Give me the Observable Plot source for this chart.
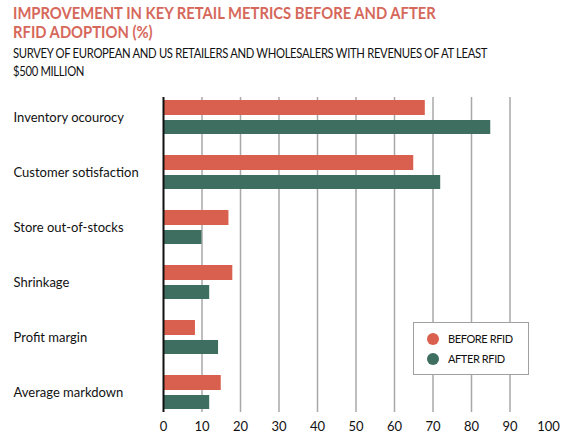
<!DOCTYPE html>
<html><head><meta charset="utf-8">
<script src="https://cdn.jsdelivr.net/npm/d3@7"></script>
<script src="https://cdn.jsdelivr.net/npm/@observablehq/plot@0.6"></script>
<style>
body{margin:0;background:#fff;font-family:Lato,sans-serif;}
#wrap{position:relative;width:565px;height:437px;overflow:hidden;}
#title{position:absolute;left:13px;top:3px;color:#d6685b;font-weight:700;font-size:17.5px;line-height:19px;white-space:nowrap;transform:scaleX(0.845);transform-origin:0 0;}
#sub{position:absolute;left:13px;top:45px;font-size:12.5px;line-height:18px;color:#111;letter-spacing:-0.35px;white-space:nowrap;transform:scaleX(0.9);transform-origin:0 0;}
#chart{position:absolute;left:0;top:85px;}
#legend{position:absolute;left:413px;top:322px;width:116px;height:53px;box-sizing:border-box;border:1.5px solid #a0a0a0;background:#fff;font-size:11px;letter-spacing:-0.4px;color:#111;}
.item{position:absolute;left:13px;display:flex;align-items:center;white-space:nowrap;}
.dot{width:12px;height:12px;border-radius:50%;margin-right:9px;}
</style></head>
<body>
<div id="wrap">
  <div id="title"></div>
  <div id="sub"></div>
  <div id="chart"></div>
  <div id="legend"></div>
</div>
<script>
const titleLines = ["IMPROVEMENT IN KEY RETAIL METRICS BEFORE AND AFTER", "RFID ADOPTION (%)"];
const subtitleLines = ["SURVEY OF EUROPEAN AND US RETAILERS AND WHOLESALERS WITH REVENUES OF AT LEAST", "$500 MILLION"];
const categories = ["Inventory ocourocy", "Customer sotisfaction", "Store out-of-stocks", "Shrinkage", "Profit margin", "Average markdown"];
const beforeValues = [68, 65, 17, 18, 8.3, 15];
const afterValues = [85, 72, 10, 12, 14.3, 12];
const seriesNames = ["BEFORE RFID", "AFTER RFID"];
const seriesColors = ["#d9604f", "#3e6e60"];
const xTicks = [0, 10, 20, 30, 40, 50, 60, 70, 80, 90, 100];
const gridTicks = [10, 20, 30, 40, 50, 60, 70, 80, 90];

document.getElementById("title").innerHTML = titleLines.join("<br>");
document.getElementById("sub").innerHTML = subtitleLines.join("<br>");

const data = categories.map((c, i) => ({cat: c, before: beforeValues[i], after: afterValues[i]}));

const chart = Plot.plot({
  width: 565,
  height: 352,
  marginLeft: 163,
  marginRight: 17,
  marginTop: 12,
  marginBottom: 25,
  style: {fontFamily: "Lato, sans-serif", fontSize: "13px", color: "#111", background: "transparent"},
  x: {domain: [0, 100], ticks: xTicks, tickSize: 0, tickPadding: 9, label: null},
  y: {domain: categories, paddingInner: 0.39, paddingOuter: 0.03, axis: null},
  marks: [
    Plot.ruleX(gridTicks, {stroke: "#a8a8a8", strokeWidth: 1.5}),
    Plot.barX(data, {x: "before", y: "cat", fill: seriesColors[0], insetBottom: 19}),
    Plot.barX(data, {x: "after", y: "cat", fill: seriesColors[1], insetTop: 20}),
    Plot.ruleX([0], {stroke: "#111", strokeWidth: 2}),
    Plot.text(categories, {y: d => d, text: d => d, frameAnchor: "left", textAnchor: "start", dx: -150, fontSize: 13, fill: "#111"})
  ]
});
document.getElementById("chart").appendChild(chart);

const legend = document.getElementById("legend");
seriesNames.forEach((name, i) => {
  const it = document.createElement("div");
  it.className = "item";
  it.style.top = (9 + i * 20) + "px";
  it.innerHTML = `<span class="dot" style="background:${seriesColors[i]}"></span><span>${name}</span>`;
  legend.appendChild(it);
});
</script>
</body></html>
